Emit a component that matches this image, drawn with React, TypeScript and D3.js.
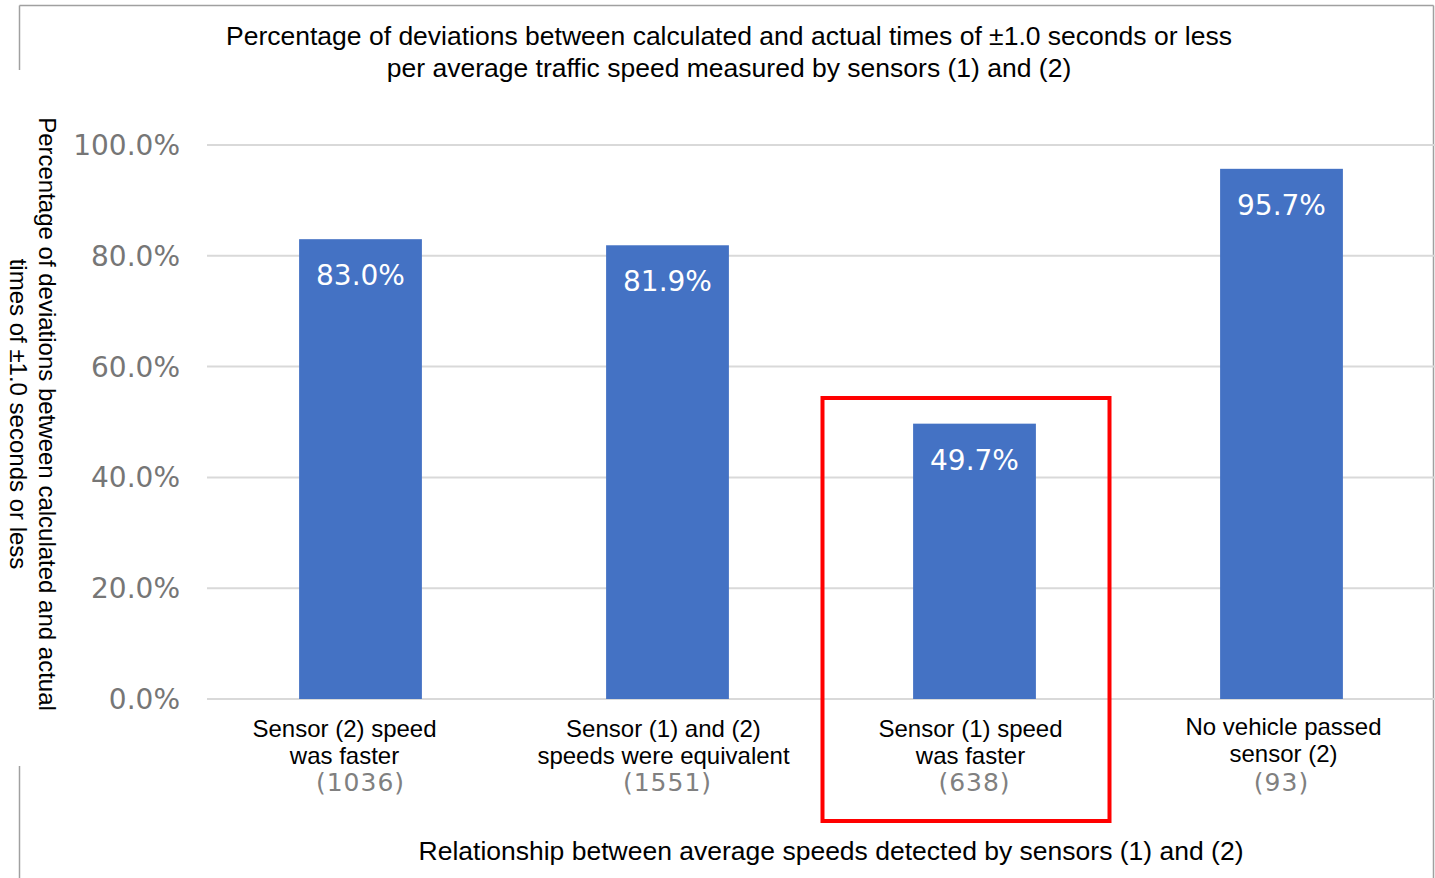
import React from "react";
import * as d3 from "d3";

const categories = ["c1", "c2", "c3", "c4"];
const labelLines = [
  ["Sensor (2) speed", "was faster"],
  ["Sensor (1) and (2)", "speeds were equivalent"],
  ["Sensor (1) speed", "was faster"],
  ["No vehicle passed", "sensor (2)"],
];
const counts = ["(1036)", "(1551)", "(638)", "(93)"];
const values = [83.0, 81.9, 49.7, 95.7];
const yTicks = [0, 20, 40, 60, 80, 100];
const titleLines = [
  "Percentage of deviations between calculated and actual times of \u00B11.0 seconds or less",
  "per average traffic speed measured by sensors (1) and (2)",
];
const yTitleLines = [
  "Percentage of deviations between calculated and actual",
  "times of \u00B11.0 seconds or less",
];
const xTitle = "Relationship between average speeds detected by sensors (1) and (2)";
const highlightIndex = 2;

// layout
const W = 1435;
const H = 878;
const plotLeft = 207;
const plotRight = 1435;
const plotTop = 145;
const plotBottom = 699;
const labelShift = [-16, -4, -4, 2];

export default function App() {
  const x = d3
    .scaleBand<string>()
    .domain(categories)
    .range([plotLeft, plotRight])
    .paddingInner(0.6)
    .paddingOuter(0.3);
  const y = d3.scaleLinear().domain([0, 100]).range([plotBottom, plotTop]);
  const bw = x.bandwidth();
  const arial = "'Liberation Sans', Arial, sans-serif";
  const dejavu = "'DejaVu Sans', Verdana, sans-serif";
  const hx = x(categories[highlightIndex])! + bw / 2;

  return (
    <div style={{ position: "fixed", left: 0, top: 0 }}>
      <svg width={W} height={H} style={{ display: "block", background: "#fff" }}>
        {/* border fragments */}
        <g stroke="#a0a0a0" strokeWidth={1.5} fill="none">
          <line x1={19.5} y1={5.5} x2={1433.5} y2={5.5} />
          <line x1={19.5} y1={5.5} x2={19.5} y2={70} />
          <line x1={19.5} y1={766} x2={19.5} y2={878} />
          <line x1={1433.5} y1={5.5} x2={1433.5} y2={878} />
        </g>

        {/* title */}
        {titleLines.map((t, i) => (
          <text
            key={i}
            x={729}
            y={45 + i * 32}
            textAnchor="middle"
            fontFamily={arial}
            fontSize={26.5}
            fill="#000"
          >
            {t}
          </text>
        ))}

        {/* gridlines */}
        {yTicks.map((t) => (
          <line
            key={t}
            x1={plotLeft}
            x2={plotRight}
            y1={y(t)}
            y2={y(t)}
            stroke="#d9d9d9"
            strokeWidth={2}
          />
        ))}

        {/* y tick labels */}
        {yTicks.map((t) => (
          <text
            key={t}
            x={180}
            y={y(t)}
            dy="0.36em"
            textAnchor="end"
            fontFamily={dejavu}
            fontSize={28}
            fill="#767676"
          >
            {d3.format(".1f")(t) + "%"}
          </text>
        ))}

        {/* y axis title (rotated clockwise) */}
        <g transform="translate(47,414) rotate(90)">
          {yTitleLines.map((t, i) => (
            <text
              key={i}
              x={0}
              y={i * 29}
              dy="0.35em"
              textAnchor="middle"
              fontFamily={arial}
              fontSize={24}
              fill="#000"
            >
              {t}
            </text>
          ))}
        </g>

        {/* bars */}
        {categories.map((c, i) => (
          <g key={c}>
            <rect
              x={x(c)!}
              y={y(values[i])}
              width={bw}
              height={y(0) - y(values[i])}
              fill="#4472c4"
            />
            <text
              x={x(c)! + bw / 2}
              y={y(values[i]) + 36}
              dy="0.36em"
              textAnchor="middle"
              fontFamily={dejavu}
              fontSize={28}
              fill="#ffffff"
            >
              {d3.format(".1f")(values[i]) + "%"}
            </text>
          </g>
        ))}

        {/* category labels */}
        {categories.map((c, i) => (
          <g key={c}>
            {labelLines[i].map((l, j) => (
              <text
                key={j}
                x={x(c)! + bw / 2 + labelShift[i]}
                y={(i === 3 ? 735 : 737) + j * 27}
                textAnchor="middle"
                fontFamily={arial}
                fontSize={24}
                fill="#000"
              >
                {l}
              </text>
            ))}
            <text
              x={x(c)! + bw / 2}
              y={782}
              dy="0.36em"
              textAnchor="middle"
              fontFamily={dejavu}
              fontSize={25}
              letterSpacing={1}
              fill="#808080"
            >
              {counts[i]}
            </text>
          </g>
        ))}

        {/* highlight box */}
        <rect
          x={hx - 152}
          y={398}
          width={287}
          height={423}
          fill="none"
          stroke="#ff0000"
          strokeWidth={4}
        />

        {/* x axis title */}
        <text
          x={831}
          y={860}
          textAnchor="middle"
          fontFamily={arial}
          fontSize={26.5}
          fill="#000"
        >
          {xTitle}
        </text>
      </svg>
    </div>
  );
}
